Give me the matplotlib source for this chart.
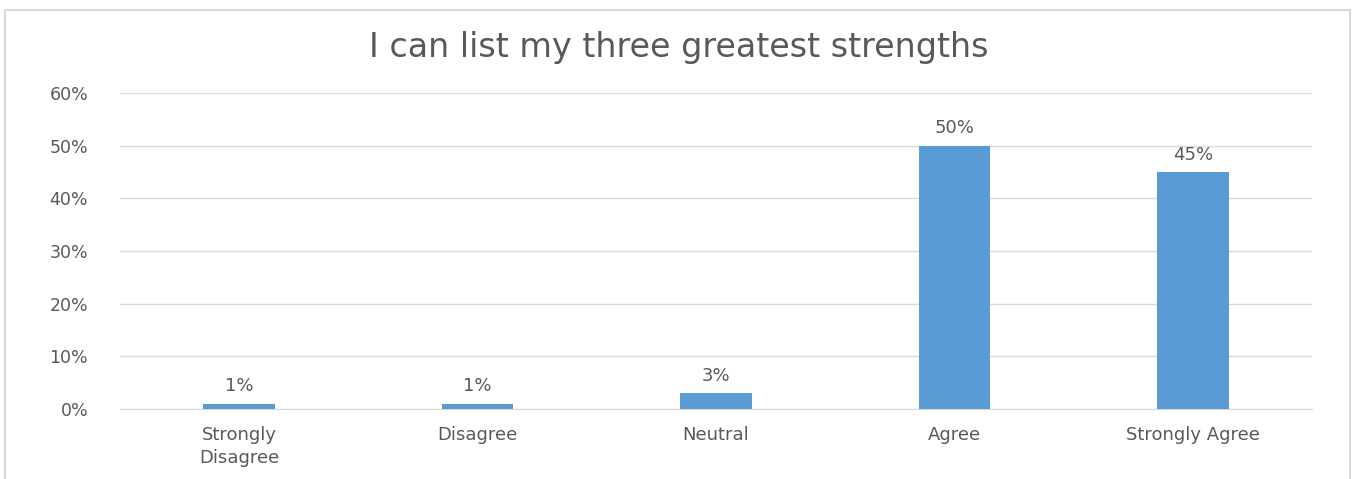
import matplotlib
matplotlib.use("Agg")
import matplotlib.pyplot as plt
from matplotlib.patches import Rectangle
from matplotlib.ticker import FuncFormatter

categories = ["Strongly\nDisagree", "Disagree", "Neutral", "Agree", "Strongly Agree"]
values = [0.01, 0.01, 0.03, 0.50, 0.45]
labels = ["1%", "1%", "3%", "50%", "45%"]
title = "I can list my three greatest strengths"

plt.rcParams['font.family'] = ['DejaVu Sans']
txt = '#595959'

fig = plt.figure(figsize=(13.57, 4.79), dpi=100)
ax = fig.add_axes([0.0884, 0.146, 0.8786, 0.66])

fig.patches.append(Rectangle((5/1357, -0.05), 1345/1357, 1 - 10/479 + 0.05,
                             transform=fig.transFigure, fill=False,
                             edgecolor='#d9d9d9', linewidth=1.5))

x = range(len(categories))
bars = ax.bar(x, values, width=0.3, color='#5B9BD5', zorder=3)
for xi, v, lab in zip(x, values, labels):
    ax.text(xi, v + 0.016, lab, ha='center', va='bottom', fontsize=13, color=txt)

ax.set_xlim(-0.5, len(categories) - 0.5)
ax.set_ylim(0, 0.6)
ax.set_yticks([0, 0.1, 0.2, 0.3, 0.4, 0.5, 0.6])
ax.yaxis.set_major_formatter(FuncFormatter(lambda v, p: f"{int(round(v*100))}%"))
ax.set_xticks(list(x))
ax.set_xticklabels(categories, linespacing=1.35)
ax.tick_params(axis='y', length=0, labelsize=12.5, colors=txt, pad=23)
ax.tick_params(axis='x', length=0, labelsize=13, colors=txt, pad=12)
ax.grid(axis='y', color='#d9d9d9', linewidth=1, zorder=0)
for s in ['top', 'right', 'left']:
    ax.spines[s].set_visible(False)
ax.spines['bottom'].set_color('#d9d9d9')

fig.text(0.5, 1 - 48/479, title, ha='center', va='center', fontsize=24, color=txt)

fig.savefig('out.png', dpi=100)
